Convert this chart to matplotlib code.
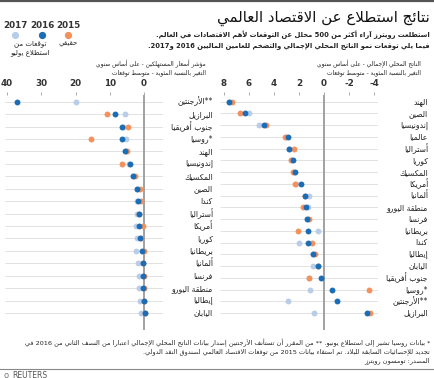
import re
import numpy as np
import matplotlib
matplotlib.use("Agg")
import matplotlib.pyplot as plt
from matplotlib.transforms import blended_transform_factory

plt.rcParams['font.family'] = ['DejaVu Sans']

# ---------------- data ----------------
cpi_countries = ['**الأرجنتين', 'البرازيل', 'جنوب أفريقيا', '*روسيا', 'الهند', 'إندونيسيا',
                 'المكسيك', 'الصين', 'كندا', 'أستراليا', 'أمريكا', 'كوريا', 'بريطانيا',
                 'ألمانيا', 'فرنسا', 'منطقة اليورو', 'إيطاليا', 'اليابان']
cpi_2015 = [np.nan, 10.8, 4.6, 15.6, 4.9, 6.4, 2.7, 1.2, 1.0, 1.5, 0.2, 0.8, 0.1, 0.3, 0.1, 0.1, 0.1, -0.3]
cpi_2016 = [37.0, 8.5, 6.5, 6.5, 5.5, 4.1, 3.1, 2.1, 1.8, 1.4, 1.4, 1.2, 0.7, 0.4, 0.4, 0.2, 0.0, -0.4]
cpi_2017 = [20.0, 5.6, 6.1, 5.3, 5.3, 4.3, 3.2, 2.0, 2.0, 2.1, 2.3, 2.1, 2.3, 1.7, 1.4, 1.4, 1.2, 1.0]

gdp_countries = ['الهند', 'الصين', 'إندونيسيا', 'عالميا', 'أستراليا', 'كوريا', 'المكسيك', 'أمريكا',
                 'ألمانيا', 'منطقة اليورو', 'فرنسا', 'بريطانيا', 'كندا', 'إيطاليا', 'اليابان',
                 'جنوب أفريقيا', '*روسيا', '**الأرجنتين', 'البرازيل']
gdp_2015 = [7.3, 6.7, 4.6, 3.1, 2.4, 2.6, 2.5, 2.3, 1.5, 1.65, 1.17, 2.1, 0.98, 0.7, 0.45, 1.2, -3.6, np.nan, -3.7]
gdp_2016 = [7.6, 6.3, 4.8, 2.9, 2.8, 2.5, 2.3, 1.8, 1.5, 1.46, 1.33, 1.3, 1.25, 0.85, 0.5, 0.24, -0.6, -1.0, -3.4]
gdp_2017 = [7.6, 6.0, 5.2, 3.0, 2.8, 2.6, 2.4, 2.2, 1.2, 1.25, 1.3, 0.5, 2.0, 0.85, 0.9, 1.2, 1.1, 2.9, 0.8]

cpi_ticks = [40, 30, 20, 10, 0]
gdp_ticks = [8, 6, 4, 2, 0, -2, -4]
years = ['2017', '2016', '2015']

C15 = '#F5915A'
C16 = '#1B6DB5'
C17 = '#BACDE8'

# ---------------- arabic shaping ----------------
DUAL = {0x0626: 0xFE89, 0x0628: 0xFE8F, 0x062A: 0xFE95, 0x062B: 0xFE99, 0x062C: 0xFE9D,
        0x062D: 0xFEA1, 0x062E: 0xFEA5, 0x0633: 0xFEB1, 0x0634: 0xFEB5, 0x0635: 0xFEB9,
        0x0636: 0xFEBD, 0x0637: 0xFEC1, 0x0638: 0xFEC5, 0x0639: 0xFEC9, 0x063A: 0xFECD,
        0x0641: 0xFED1, 0x0642: 0xFED5, 0x0643: 0xFED9, 0x0644: 0xFEDD, 0x0645: 0xFEE1,
        0x0646: 0xFEE5, 0x0647: 0xFEE9, 0x064A: 0xFEF1}
RIGHT = {0x0622: 0xFE81, 0x0623: 0xFE83, 0x0624: 0xFE85, 0x0625: 0xFE87, 0x0627: 0xFE8D,
         0x0629: 0xFE93, 0x062F: 0xFEA9, 0x0630: 0xFEAB, 0x0631: 0xFEAD, 0x0632: 0xFEAF,
         0x0648: 0xFEED, 0x0649: 0xFEEF}
LAMALEF = {0x0622: 0xFEF5, 0x0623: 0xFEF7, 0x0625: 0xFEF9, 0x0627: 0xFEFB}


def _is_ar(c):
    o = ord(c)
    return o in DUAL or o in RIGHT or o == 0x0621


def shape(s):
    out = []
    n = len(s)
    i = 0
    while i < n:
        c = s[i]
        o = ord(c)
        pj = i > 0 and ord(s[i - 1]) in DUAL
        if o == 0x0644 and i + 1 < n and ord(s[i + 1]) in LAMALEF:
            b = LAMALEF[ord(s[i + 1])]
            out.append(chr(b + 1 if pj else b))
            i += 2
            continue
        nj = i + 1 < n and _is_ar(s[i + 1])
        if o in DUAL:
            b = DUAL[o]
            f = b + 3 if (pj and nj) else b + 1 if pj else b + 2 if nj else b
            out.append(chr(f))
        elif o in RIGHT:
            b = RIGHT[o]
            out.append(chr(b + 1 if pj else b))
        elif o == 0x0621:
            out.append(chr(0xFE80))
        else:
            out.append(c)
        i += 1
    return ''.join(out)


def ar(s):
    s = shape(s)
    toks = re.findall(r'[0-9A-Za-z]+(?:[.,:][0-9]+)*|[^0-9A-Za-z]+', s)
    parts = [t if re.match(r'[0-9A-Za-z]', t) else t[::-1] for t in toks]
    return ''.join(parts[::-1])


# ---------------- figure ----------------
W, H = 435, 378
fig = plt.figure(figsize=(W / 100, H / 100), dpi=100)


def T(x, y, s, **kw):
    kw.setdefault('va', 'center')
    kw.setdefault('color', '#222222')
    return fig.text(x / W, 1 - y / H, s, **kw)


# top rule
fig.add_artist(plt.Line2D([0, 1], [1 - 0.8 / H, 1 - 0.8 / H], color='#555555', lw=1.6))

T(430, 18, ar('نتائج استطلاع عن الاقتصاد العالمي'), ha='right', fontsize=10.8, color='#111111')
T(430, 35, ar('استطلعت رويترز آراء أكثر من 500 محلل عن التوقعات لأهم الاقتصادات في العالم.'),
  ha='right', fontsize=4.9, fontweight='bold')
T(430, 46, ar('فيما يلي توقعات نمو الناتج المحلي الإجمالي والتضخم للعامين الماليين 2016 و2017.'),
  ha='right', fontsize=4.9, fontweight='bold')

# legend
for xx, yr, col in zip([15, 42, 68], years, [C17, C16, C15]):
    T(xx, 26, yr, ha='center', fontsize=6.3, fontweight='bold', color='#333333')
    fig.add_artist(plt.Line2D([xx / W], [1 - 35 / H], marker='o', ms=4.2, color=col, lw=0))
T(30, 44, ar('توقعات من'), ha='center', fontsize=5.0)
T(30, 53, ar('استطلاع يوليو'), ha='center', fontsize=5.0)
T(68, 44, ar('حقيقي'), ha='center', fontsize=5.0)


def panel(x0, x1, zero_px, px_per_unit, countries, s15, s16, s17, ticks, t1, t2, title_x):
    top, bot = 95, 330
    ax = fig.add_axes([x0 / W, 1 - bot / H, (x1 - x0) / W, (bot - top) / H])
    n = len(countries)
    rows = np.arange(n)
    first, last = 101.7, 313.0
    pxu = (last - first) / (n - 1)
    ax.set_ylim((n - 1) + (bot - last) / pxu, -(first - top) / pxu)
    ax.set_xlim((zero_px - x0) / px_per_unit, (zero_px - x1) / px_per_unit)
    for sp in ax.spines.values():
        sp.set_visible(False)
    ax.set_facecolor('none')
    ax.hlines(rows, *ax.get_xlim(), color='#e2e2e2', lw=0.7, zorder=0)
    ax.axvline(0, color='#9a9a9a', lw=1.3, zorder=1)
    ms = 18
    ax.scatter(s17, rows, s=ms, color=C17, zorder=2, linewidths=0)
    ax.scatter(s15, rows, s=ms, color=C15, zorder=3, linewidths=0)
    ax.scatter(s16, rows, s=ms, color=C16, zorder=4, linewidths=0)
    ax.xaxis.tick_top()
    ax.set_xticks(ticks)
    ax.set_xticklabels([str(t) for t in ticks], fontsize=6.3, fontweight='bold', color='#333333')
    ax.tick_params(axis='x', length=2.5, width=0.7, color='#aaaaaa', pad=2.5)
    ax.set_yticks([])
    tr = blended_transform_factory(ax.transAxes, ax.transData)
    lx = (title_x + 7 - x0) / (x1 - x0)
    for r, c in zip(rows, countries):
        ax.text(lx, r, ar(c), transform=tr, ha='right', va='center', fontsize=5.6, color='#222222')
    T(title_x, 64, ar(t1), ha='right', fontsize=4.2)
    T(title_x, 73, ar(t2), ha='right', fontsize=4.2)
    return ax


panel(5, 163, 144, 3.425, cpi_countries, cpi_2015, cpi_2016, cpi_2017, cpi_ticks,
      'مؤشر أسعار المستهلكين - على أساس سنوي', 'التغير بالنسبة المئوية - متوسط توقعات', 206)
panel(220, 378, 324, 12.55, gdp_countries, gdp_2015, gdp_2016, gdp_2017, gdp_ticks,
      'الناتج المحلي الإجمالي - على أساس سنوي', 'التغير بالنسبة المئوية - متوسط توقعات', 421)

# footnotes
FS = 4.65
T(430, 343, ar('* بيانات روسيا تشير إلى استطلاع يونيو. ** من المقرر أن تستأنف الأرجنتين إصدار بيانات الناتج المحلي الإجمالي اعتبارا من النصف الثاني من 2016 في'),
  ha='right', fontsize=FS)
T(430, 352, ar('تجديد للإحصائيات السابقة للبلاد. تم استقاء بيانات 2015 من توقعات الاقتصاد العالمي لصندوق النقد الدولي.'),
  ha='right', fontsize=FS)
T(430, 361, ar('المصدر: تومسون رويترز'), ha='right', fontsize=FS)
fig.add_artist(plt.Line2D([0, 1], [1 - 369 / H, 1 - 369 / H], color='#888888', lw=0.8))
T(6, 375, 'o', ha='center', fontsize=6, color='#777777')
T(12, 375, 'REUTERS', ha='left', fontsize=5.5, color='#555555')

fig.savefig('out.png', dpi=100)
